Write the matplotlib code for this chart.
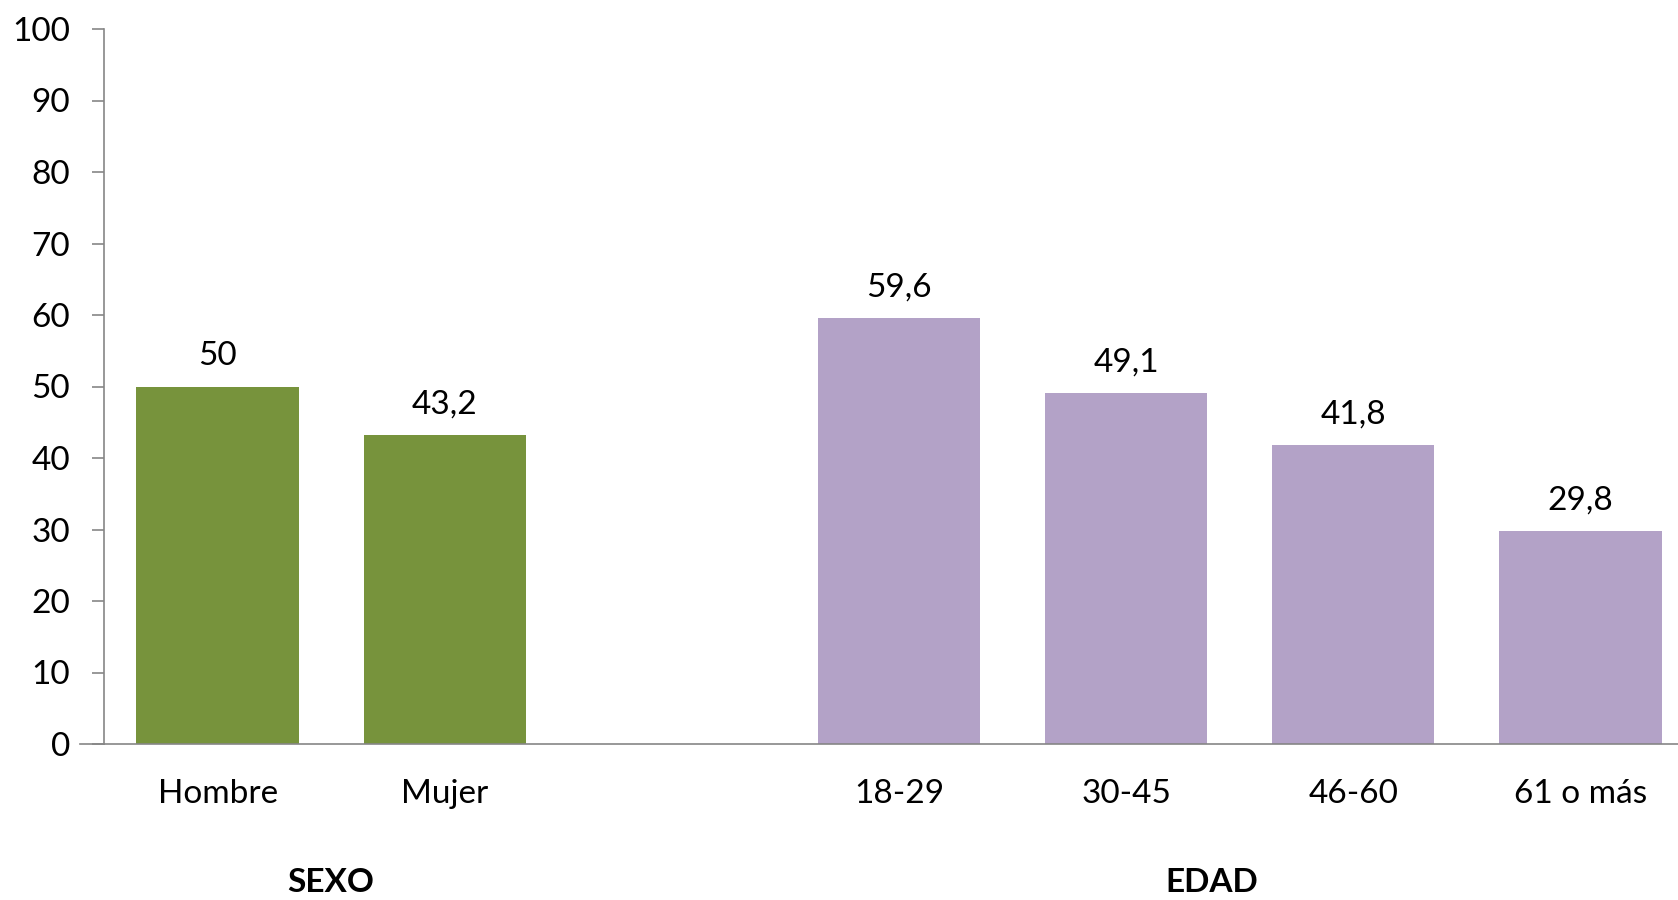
import matplotlib.pyplot as plt
import numpy as np

plt.rcParams['font.family'] = ['Lato', 'DejaVu Sans']

# datos
categorias = ['Hombre', 'Mujer', '', '18-29', '30-45', '46-60', '61 o más']
valores = [50, 43.2, None, 59.6, 49.1, 41.8, 29.8]
etiquetas = ['50', '43,2', '', '59,6', '49,1', '41,8', '29,8']
grupos = ['SEXO', 'EDAD']
grupo_x = [0.5, 4.375]

verde = '#77933C'
morado = '#B3A2C7'
colores = [verde, verde, None, morado, morado, morado, morado]

fig = plt.figure(figsize=(16.78, 9), dpi=100)
ax = fig.add_axes([104 / 1678, 156 / 900, (1694 - 104) / 1678, 715 / 900])

x = np.arange(len(categorias))
for xi, v, c, lab in zip(x, valores, colores, etiquetas):
    if v is None:
        continue
    ax.bar(xi, v, width=0.714, color=c)
    ax.text(xi, v + 4.3, lab, ha='center', va='center', fontsize=24)

ax.set_xlim(-0.5, 6.5)
ax.set_ylim(0, 100)
ax.set_yticks(range(0, 101, 10))
ax.tick_params(axis='y', labelsize=24, length=8.6, width=1.2, color='#868686', direction='out', pad=16)
ax.set_xticks(x)
ax.set_xticklabels(categorias, fontsize=24)
ax.tick_params(axis='x', length=0, pad=25.5)

for s in ['top', 'right']:
    ax.spines[s].set_visible(False)
for s in ['left', 'bottom']:
    ax.spines[s].set_color('#868686')
    ax.spines[s].set_linewidth(1.2)

for g, gx in zip(grupos, grupo_x):
    ax.text(gx, -20.7, g, ha='center', va='baseline', fontsize=24, fontweight='bold')

# extender el eje x hacia la izquierda como en el original
ax.plot([-0.605, -0.5], [0, 0], color='#868686', lw=1.2, clip_on=False)

fig.savefig('out.png', dpi=100)
